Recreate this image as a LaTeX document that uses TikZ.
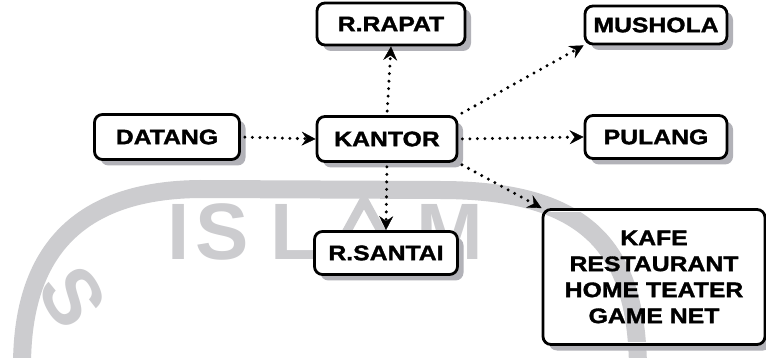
\documentclass[tikz,border=0pt]{standalone}
\usepackage{fontspec}
\newfontfamily\lbl[FakeStretch=1.18,FakeBold=1.6]{Liberation Sans Bold}
\newfontfamily\wmfont{Liberation Sans Bold}
\usetikzlibrary{arrows.meta}
\definecolor{shadowgray}{rgb}{0.70,0.70,0.72}
\definecolor{wmgray}{rgb}{0.80,0.80,0.81}
\begin{document}
\begin{tikzpicture}[x=1pt,y=-1pt,
  box/.style={draw=black, line width=2.8pt, rounded corners=8pt,
    inner sep=0pt, align=center, font=\lbl\fontsize{21}{26}\selectfont},
  conn/.style={line width=3.3pt, dash pattern=on 0pt off 7.5pt, line cap=round,
    shorten <=4pt,
    -{Stealth[length=14pt,width=14pt,inset=5pt,line width=0.4pt]}},
  wmtext/.style={text=wmgray, font=\wmfont\fontsize{80}{80}\selectfont, inner sep=0pt}
]
\useasboundingbox (0,0) rectangle (766,358);
\fill[white] (0,0) rectangle (766,358);

% watermark
\draw[wmgray, line width=18pt] (22,366) .. controls (22,250) and (80,190) .. (200,189) -- (440,190)
  .. controls (590,190) and (636,250) .. (638,366);
\node[wmtext, anchor=base] (wmI) at (179,260) {I};
\node[wmtext, anchor=base] (wmS) at (222,260) {S};
\node[wmtext, anchor=base] (wmL) at (295,260) {L};
\node[wmtext, anchor=base] (wmM) at (450,260) {M};
\node[wmtext, rotate=-60] (wmS2) at (73,297) {S};
\draw[wmgray, line width=9pt, line join=miter]
  (330,262) -- (364,200) -- (398,262);

% shadows
\fill[shadowgray, rounded corners=8pt] (323,9) rectangle (471,51);
\fill[shadowgray, rounded corners=8pt] (591,12) rectangle (733,50);
\fill[shadowgray, rounded corners=8pt] (100.5,120.5) rectangle (245.5,165.5);
\fill[shadowgray, rounded corners=8pt] (323,122.5) rectangle (463,167.5);
\fill[shadowgray, rounded corners=8pt] (591,121.5) rectangle (733,164.5);
\fill[shadowgray, rounded corners=8pt] (320.5,237.5) rectangle (463.5,280.5);
\fill[shadowgray, rounded corners=8pt] (549,215.5) rectangle (771,350.5);

% box interiors
\fill[white, rounded corners=8pt] (317,3) rectangle (465,45);
\fill[white, rounded corners=8pt] (585,6) rectangle (727,44);
\fill[white, rounded corners=8pt] (94.5,114.5) rectangle (239.5,159.5);
\fill[white, rounded corners=8pt] (317,116.5) rectangle (457,161.5);
\fill[white, rounded corners=8pt] (585,115.5) rectangle (727,158.5);
\fill[white, rounded corners=8pt] (314.5,231.5) rectangle (457.5,274.5);
\fill[white, rounded corners=8pt] (543,209.5) rectangle (765,344.5);

% watermark band seen through the large box
\begin{scope}
  \clip (546,212.5) rectangle (762,341.5);
  \draw[wmgray, line width=18pt] (22,366) .. controls (22,250) and (80,190) .. (200,189) -- (440,190)
    .. controls (590,190) and (636,250) .. (638,366);
\end{scope}

% nodes
\node[box, minimum width=148pt, minimum height=42pt] (rapat)   at (391,24)  {R.RAPAT};
\node[box, minimum width=142pt, minimum height=38pt] (mushola) at (656,25)  {MUSHOLA};
\node[box, minimum width=145pt, minimum height=45pt] (datang)  at (167,137) {DATANG};
\node[box, minimum width=140pt, minimum height=45pt] (kantor)  at (387,139) {KANTOR};
\node[box, minimum width=142pt, minimum height=43pt] (pulang)  at (656,137) {PULANG};
\node[box, minimum width=143pt, minimum height=43pt] (santai)  at (386,253) {R.SANTAI};
\node[box, minimum width=222pt, minimum height=135pt] (kafe)   at (654,277) {KAFE\\RESTAURANT\\HOME TEATER\\GAME NET};

% connectors
\draw[conn] (datang.east) -- (kantor.west);
\draw[conn] (kantor.north) -- (rapat.south);
\draw[conn] (kantor.north east) -- (mushola.south west);
\draw[conn] (kantor.east) -- (pulang.west);
\draw[conn] (kantor.south) -- (santai.north);
\draw[conn] (kantor.south east) -- (kafe.north west);
\end{tikzpicture}
\end{document}
